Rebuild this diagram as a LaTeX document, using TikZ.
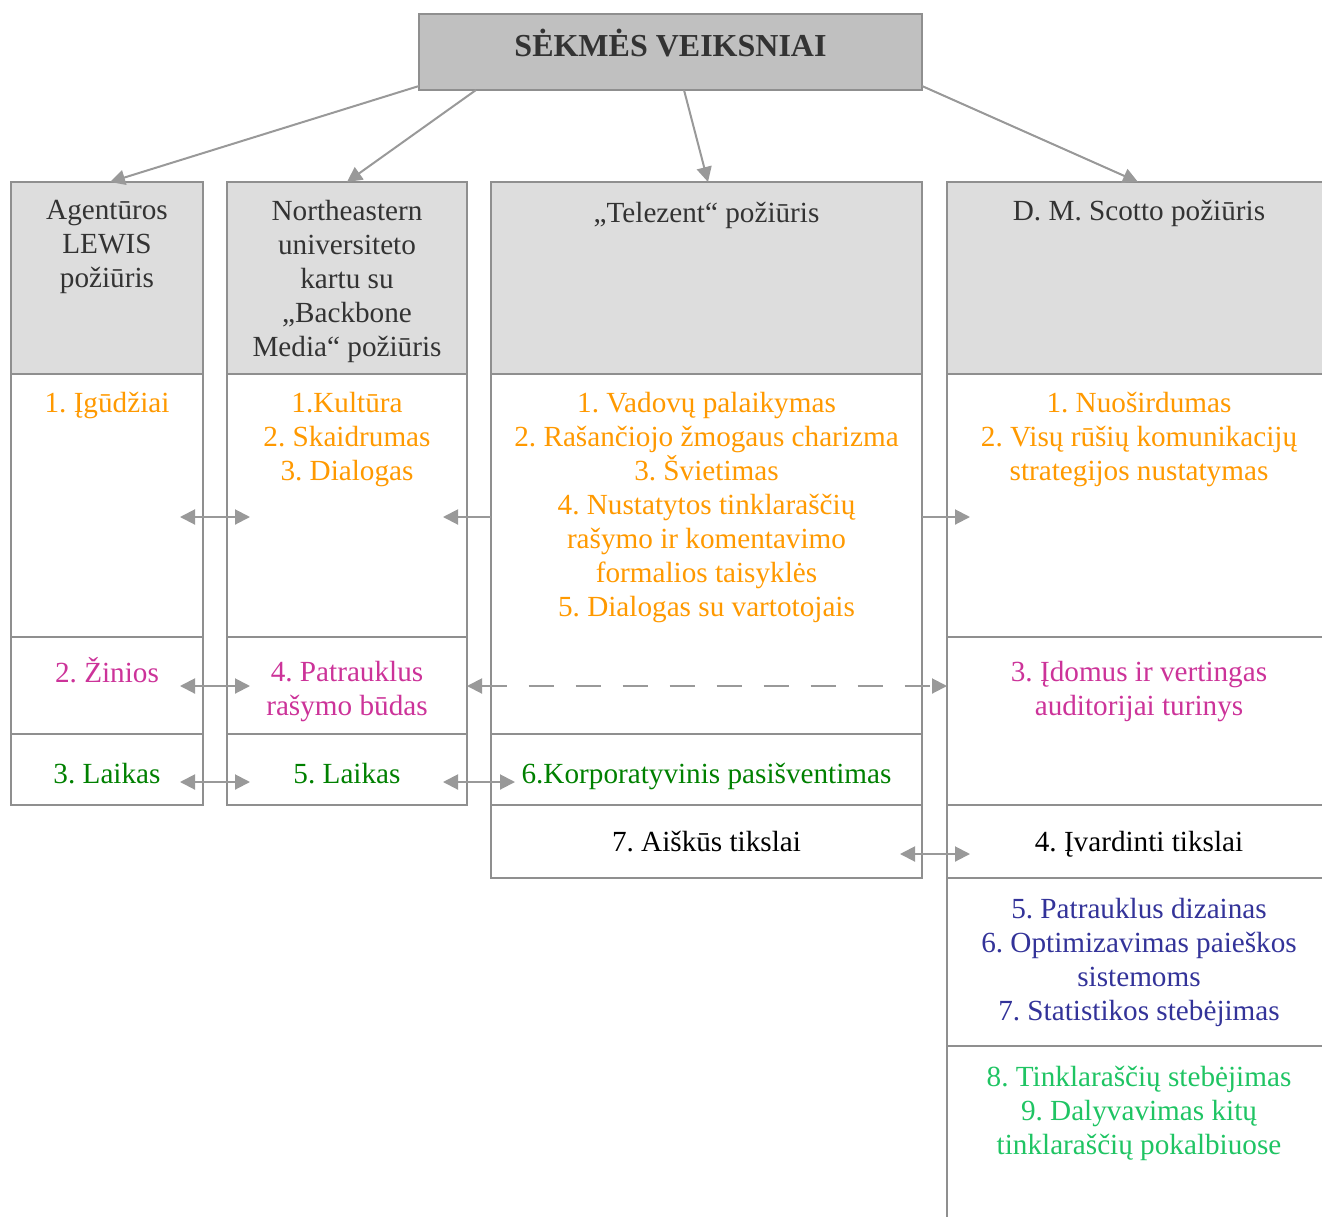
\documentclass[tikz,border=0pt]{standalone}
\usepackage{fontspec}
\setmainfont{Liberation Serif}
\usetikzlibrary{arrows.meta,calc}
\definecolor{bordc}{HTML}{8F8F8F}
\definecolor{arrc}{HTML}{999999}
\definecolor{hdrfill}{HTML}{DDDDDD}
\definecolor{topfill}{HTML}{C0C0C0}
\definecolor{txtdark}{HTML}{333333}
\definecolor{torange}{HTML}{FF9900}
\definecolor{tpink}{HTML}{CC3399}
\definecolor{tgreen}{HTML}{008000}
\definecolor{tblue}{HTML}{333399}
\definecolor{tlgreen}{HTML}{1FC463}
\begin{document}
\frenchspacing
\begin{tikzpicture}[x=0.5pt,y=-0.5pt,
  cellbox/.style={draw=bordc,line width=1pt,inner sep=0pt,outer sep=0pt},
  hdrbox/.style={cellbox,fill=hdrfill},
  topbox/.style={cellbox,fill=topfill},
  txt/.style={font=\fontsize{14.6}{17}\selectfont\frenchspacing,align=center,inner sep=0pt,anchor=north,execute at begin node=\strut},
  hdrtxt/.style={txt,text=txtdark},
  titletxt/.style={font=\fontsize{16}{19}\selectfont\bfseries,text=txtdark,inner sep=0pt,anchor=base},
  tipstyle/.tip={Triangle[length=7.5pt,width=7.5pt]},
  arr/.style={draw=arrc,line width=1pt,-tipstyle},
  dbl/.style={draw=arrc,line width=1pt,tipstyle-tipstyle},
  dashpat/.style={dash pattern=on 12.5pt off 11pt}
]
\useasboundingbox (0,0) rectangle (1322,1216);
\clip (0,0) rectangle (1322,1216);

% top box
\node[topbox,minimum width=251.5pt,minimum height=38pt] (top) at (670.5,52) {};
\node[titletxt] (title) at (670.5,56) {SĖKMĖS VEIKSNIAI};

% headers
\node[hdrbox,minimum width=96pt,minimum height=96pt] (h1) at (107,278) {};
\node[hdrbox,minimum width=120pt,minimum height=96pt] (h2) at (347,278) {};
\node[hdrbox,minimum width=215.5pt,minimum height=96pt] (h3) at (706.5,278) {};
\node[hdrbox,minimum width=192pt,minimum height=96pt] (h4) at (1139,278) {};

% column 1
\node[cellbox,minimum width=96pt,minimum height=131.5pt] (c1a) at (107,505.5) {};
\node[cellbox,minimum width=96pt,minimum height=48.5pt] (c1b) at (107,685.5) {};
\node[cellbox,minimum width=96pt,minimum height=35.5pt] (c1c) at (107,769.5) {};
% column 2
\node[cellbox,minimum width=120pt,minimum height=131.5pt] (c2a) at (347,505.5) {};
\node[cellbox,minimum width=120pt,minimum height=48.5pt] (c2b) at (347,685.5) {};
\node[cellbox,minimum width=120pt,minimum height=35.5pt] (c2c) at (347,769.5) {};
% column 3
\node[cellbox,minimum width=215.5pt,minimum height=180pt] (c3a) at (706.5,554) {};
\node[cellbox,minimum width=215.5pt,minimum height=35.5pt] (c3b) at (706.5,769.5) {};
\node[cellbox,minimum width=215.5pt,minimum height=36.5pt] (c3c) at (706.5,841.5) {};
% column 4
\node[cellbox,minimum width=192pt,minimum height=131.5pt] (c4a) at (1139,505.5) {};
\node[cellbox,minimum width=192pt,minimum height=84pt] (c4b) at (1139,721) {};
\node[cellbox,minimum width=192pt,minimum height=36.5pt] (c4c) at (1139,841.5) {};
\node[cellbox,minimum width=192pt,minimum height=84pt] (c4d) at (1139,962) {};
\node[cellbox,minimum width=192pt,minimum height=92pt] (c4e) at (1139,1138) {};

% header texts
\node[hdrtxt] (t1) at (107,200) {Agentūros\\LEWIS\\požiūris};
\node[hdrtxt] (t2) at (347,200) {Northeastern\\universiteto\\kartu su\\„Backbone\\Media“ požiūris};
\node[hdrtxt] (t3) at (706.5,198.2) {„Telezent“ požiūris};
\node[hdrtxt] (t4) at (1139,196.2) {D. M. Scotto požiūris};

% cell texts
\node[txt,text=torange] (x1a) at (107,388.2) {1. Įgūdžiai};
\node[txt,text=tpink] (x1b) at (107,657.2) {2. Žinios};
\node[txt,text=tgreen] (x1c) at (107,759.2) {3. Laikas};

\node[txt,text=torange] (x2a) at (347,392.2) {1.Kultūra\\2. Skaidrumas\\3. Dialogas};
\node[txt,text=tpink] (x2b) at (347,661.2) {4. Patrauklus\\rašymo būdas};
\node[txt,text=tgreen] (x2c) at (347,759.2) {5. Laikas};

\node[txt,text=torange] (x3a) at (706.5,392.2) {1. Vadovų palaikymas\\2. Rašančiojo žmogaus charizma\\3. Švietimas\\4. Nustatytos tinklaraščių\\rašymo ir komentavimo\\formalios taisyklės\\5. Dialogas su vartotojais};
\node[txt,text=tgreen] (x3b) at (706.5,759.2) {6.Korporatyvinis pasišventimas};
\node[txt,text=black] (x3c) at (706.5,827) {7. Aiškūs tikslai};

\node[txt,text=torange] (x4a) at (1139,392.2) {1. Nuoširdumas\\2. Visų rūšių komunikacijų\\strategijos nustatymas};
\node[txt,text=tpink] (x4b) at (1139,661.2) {3. Įdomus ir vertingas\\auditorijai turinys};
\node[txt,text=black] (x4c) at (1139,827) {4. Įvardinti tikslai};
\node[txt,text=tblue] (x4d) at (1139,898.2) {5. Patrauklus dizainas\\6. Optimizavimas paieškos\\sistemoms\\7. Statistikos stebėjimas};
\node[txt,text=tlgreen] (x4e) at (1139,1066.2) {8. Tinklaraščių stebėjimas\\9. Dalyvavimas kitų\\tinklaraščių pokalbiuose};

% arrows from top box
\draw[arr] ($(top.south west)+(0,-4)$) -- ($(h1.north)+(3,0)$);
\draw[arr] ($(top.south west)+(57,0)$) -- (h2.north);
\draw[arr] ($(top.south)+(13.5,0)$) -- ($(h3.north)+(1.5,0)$);
\draw[arr] ($(top.south east)+(0,-4)$) -- ($(h4.north)+(-1,0)$);

% horizontal arrows
\draw[dbl] ($(c1a.east)+(-23,11.5)$) -- ($(c2a.west)+(23,11.5)$);
\draw[arr] ($(c3a.west)+(0,-37)$) -- ($(c2a.east)+(-24,11.5)$);
\draw[arr] ($(c3a.east)+(0,-37)$) -- ($(c4a.west)+(23,11.5)$);
\draw[dbl] ($(c1b.east)+(-23,0.5)$) -- ($(c2b.west)+(23,0.5)$);
\draw[dbl,dashpat] ($(c2b.east)+(0,0.5)$) -- ($(c4b.west)+(0,-35)$);
\draw[dbl] ($(c1c.east)+(-23,12.5)$) -- ($(c2c.west)+(23,12.5)$);
\draw[dbl] ($(c2c.east)+(-24,12.5)$) -- ($(c3b.west)+(24,12.5)$);
\draw[dbl] ($(c3c.east)+(-22,12.5)$) -- ($(c4c.west)+(23,12.5)$);
\end{tikzpicture}
\end{document}
